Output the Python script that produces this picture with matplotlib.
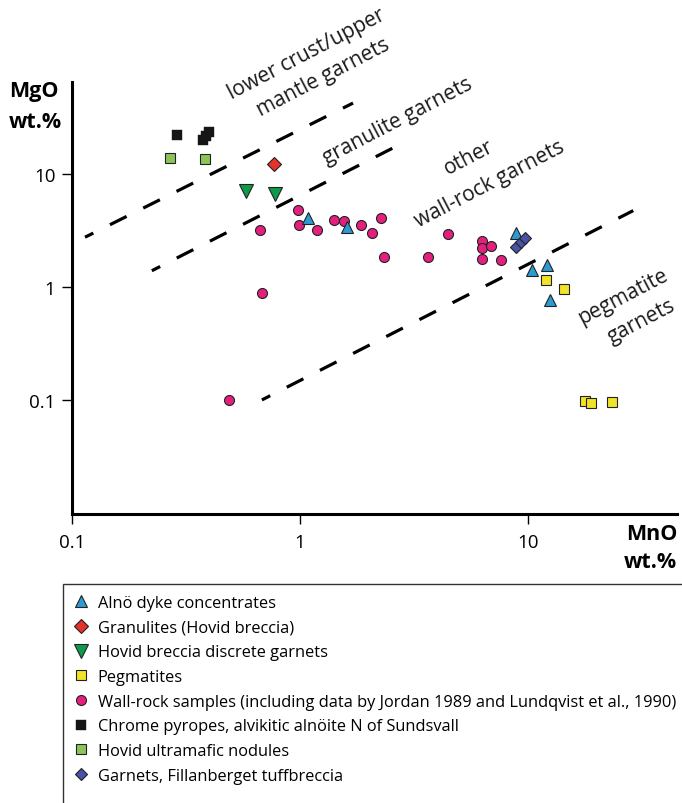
import matplotlib
matplotlib.use("Agg")
import matplotlib.pyplot as plt
from matplotlib.patches import Rectangle

plt.rcParams["font.family"] = ["Open Sans", "DejaVu Sans"]
plt.rcParams["lines.scale_dashes"] = False

# MnO / MgO (wt.%) per garnet group
alno_mno = [1.09, 1.61, 8.9, 10.4, 12.1, 12.5]
alno_mgo = [4.1, 3.4, 3.0, 1.42, 1.55, 0.76]

granulite_mno = [0.77]
granulite_mgo = [12.2]

hovid_disc_mno = [0.58, 0.78]
hovid_disc_mgo = [7.0, 6.6]

pegm_mno = [12.0, 14.4, 17.8, 19.0, 23.4]
pegm_mgo = [1.14, 0.96, 0.097, 0.093, 0.095]

wall_mno = [0.98, 0.67, 0.99, 1.19, 1.41, 1.56, 1.86, 2.08, 2.26, 2.34,
            3.63, 4.45, 6.3, 6.3, 6.9, 6.3, 7.6, 0.68, 0.49]
wall_mgo = [4.8, 3.2, 3.5, 3.2, 3.9, 3.85, 3.5, 3.0, 4.1, 1.83,
            1.84, 2.93, 2.54, 2.2, 2.3, 1.77, 1.73, 0.89, 0.1]

chrome_mno = [0.29, 0.374, 0.387, 0.399]
chrome_mgo = [22.0, 20.0, 21.8, 23.7]

hovid_um_mno = [0.27, 0.385]
hovid_um_mgo = [13.8, 13.6]

fillan_mno = [8.9, 9.3, 9.7]
fillan_mgo = [2.27, 2.49, 2.7]

# field boundaries (constant MgO/MnO), end points
bound_upper = ([0.114, 1.71], [2.75, 42.3])
bound_granulite = ([0.224, 2.95], [1.39, 19.6])
bound_pegmatite = ([0.681, 29.0], [0.1, 4.73])

fig = plt.figure(figsize=(6.82, 8.04), dpi=100)
ax = fig.add_axes([0.1056, 0.3595, 0.887, 0.5373])
ax.set_xscale("log")
ax.set_yscale("log")
ax.set_xlim(0.1, 45.1)
ax.set_ylim(0.0098, 65)

for bx, by in (bound_upper, bound_granulite, bound_pegmatite):
    ax.plot(bx, by, color="black", lw=2.3, linestyle=(6.7, (13.4, 13.4)),
            solid_capstyle="butt", dash_capstyle="butt", zorder=1)

ec = "#222222"
ew = 0.8
h_wall, = ax.plot(wall_mno, wall_mgo, "o", ms=7.2, mfc="#E4207E", mec=ec, mew=ew,
                  ls="none", zorder=3)
h_alno, = ax.plot(alno_mno, alno_mgo, "^", ms=9, mfc="#2D9AD2", mec=ec, mew=ew,
                  ls="none", zorder=4)
h_fill, = ax.plot(fillan_mno, fillan_mgo, "D", ms=5.8, mfc="#4A52A5", mec=ec, mew=ew,
                  ls="none", zorder=5)
h_gran, = ax.plot(granulite_mno, granulite_mgo, "D", ms=7.0, mfc="#E5322D", mec=ec,
                  mew=ew, ls="none", zorder=4)
h_disc, = ax.plot(hovid_disc_mno, hovid_disc_mgo, "v", ms=9.5, mfc="#0E9A4B", mec=ec,
                  mew=ew, ls="none", zorder=4)
h_pegm, = ax.plot(pegm_mno, pegm_mgo, "s", ms=7.4, mfc="#F1E327", mec=ec, mew=ew,
                  ls="none", zorder=4)
h_chrome, = ax.plot(chrome_mno, chrome_mgo, "s", ms=7.3, mfc="#151515", mec="#151515",
                    mew=0.3, ls="none", zorder=4)
h_um, = ax.plot(hovid_um_mno, hovid_um_mgo, "s", ms=7.0, mfc="#8CC45B", mec=ec, mew=ew,
                ls="none", zorder=4)

# axes styling
for side in ("top", "right"):
    ax.spines[side].set_visible(False)
for side in ("left", "bottom"):
    ax.spines[side].set_linewidth(2.2)
ax.set_xticks([0.1, 1, 10])
ax.set_xticklabels(["0.1", "1", "10"])
ax.set_yticks([0.1, 1, 10])
ax.set_yticklabels(["0.1", "1", "10"])
ax.minorticks_off()
ax.tick_params(axis="both", length=7, width=1.0, labelsize=13.5, pad=5)
ax.tick_params(axis="x", pad=7)

fig.text(9 / 682, 1 - 92 / 804, "MgO", fontsize=15.5, fontweight="bold",
         ha="left", va="center")
fig.text(9 / 682, 1 - 122 / 804, "wt.%", fontsize=15.5, fontweight="bold",
         ha="left", va="center")
fig.text(677 / 682, 1 - 534 / 804, "MnO", fontsize=15.5, fontweight="bold",
         ha="right", va="center")
fig.text(677 / 682, 1 - 563 / 804, "wt.%", fontsize=15.5, fontweight="bold",
         ha="right", va="center")

# field labels
rot = 27.5
for (px, py), txt in [((306, 54), "lower crust/upper"),
                      ((323, 78), "mantle garnets"),
                      ((398, 121), "granulite garnets"),
                      ((469, 158), "other"),
                      ((490, 184), "wall-rock garnets"),
                      ((623, 297), "pegmatite"),
                      ((641, 322), "garnets")]:
    fig.text(px / 682, 1 - py / 804, txt, fontsize=15, rotation=rot,
             rotation_mode="anchor", ha="center", va="center", color="#1a1a1a")

# legend frame running off the page edge
fig.patches.append(Rectangle((62.5 / 682, -0.05), 0.95, 1 - 585 / 804 + 0.05,
                             transform=fig.transFigure, fill=False,
                             edgecolor="#333333", lw=1.0))

handles = [h_alno, h_gran, h_disc, h_pegm, h_wall, h_chrome, h_um, h_fill]
labels = ["Alnö dyke concentrates",
          "Granulites (Hovid breccia)",
          "Hovid breccia discrete garnets",
          "Pegmatites",
          "Wall-rock samples (including data by Jordan 1989 and Lundqvist et al., 1990)",
          "Chrome pyropes, alvikitic alnöite N of Sundsvall",
          "Hovid ultramafic nodules",
          "Garnets, Fillanberget tuffbreccia"]
fig.legend(handles, labels, loc="upper left",
           bbox_to_anchor=(73 / 682, 1 - 596 / 804), frameon=False,
           fontsize=11.8, labelspacing=0.53, handlelength=1.0,
           handletextpad=0.5, borderpad=0, borderaxespad=0)

fig.savefig("out.png", dpi=100)
